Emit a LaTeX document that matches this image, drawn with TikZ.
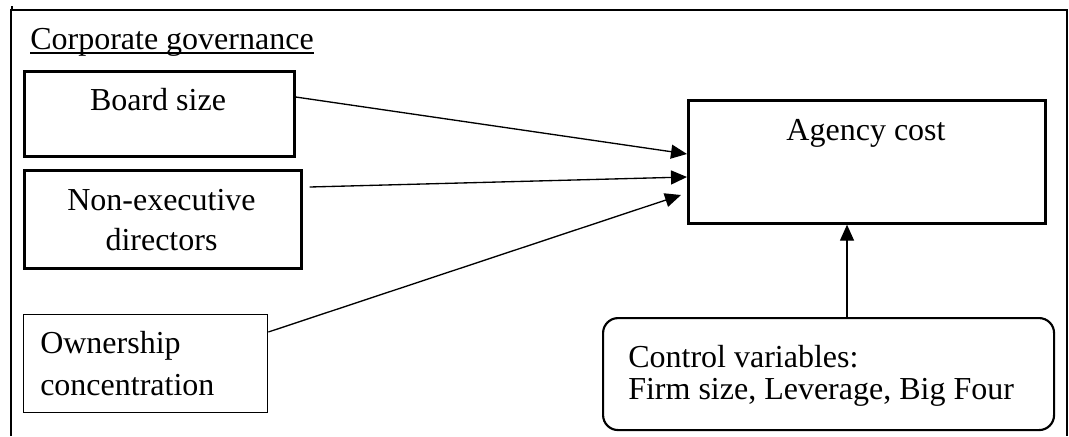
\documentclass[tikz,border=0pt]{standalone}
\usepackage{fontspec}
\setmainfont{Liberation Serif}
\usetikzlibrary{arrows.meta,calc}
\def\u{0.75pt}
\begin{document}
\begin{tikzpicture}[x=0.75pt,y=-0.75pt,
  every node/.style={font=\fontsize{24}{30}\selectfont, inner sep=0pt},
  thickbox/.style={draw, line width=2pt, rectangle, anchor=north west},
  thinbox/.style={draw, line width=1pt, rectangle, anchor=north west},
  roundbox/.style={draw, line width=1.6pt, rectangle, rounded corners=15*\u, anchor=north west},
  label/.style={anchor=base},
  conn/.style={line width=1pt, -{Triangle[length=16*\u, width=14*\u]}}]
\useasboundingbox (0,0) rectangle (1069,436);
% outer frame
\draw[line width=0.9pt] (11,436) -- (11,10) -- (1067,10) -- (1067,436);
\draw[line width=1pt] (12,6) -- (12,10);
% title
\node[anchor=base west] (title) at (30,49) {Corporate governance};
\draw[line width=0.9pt] ($(title.base west)+(0,4)$) -- ($(title.base east)+(0,4)$);
% boxes
\node[thickbox, minimum width=270*\u, minimum height=85*\u] (board) at (23,70) {};
\node[label] at (158,110) {Board size};
\node[thickbox, minimum width=277*\u, minimum height=98*\u] (nonexec) at (23,169) {};
\node[label, align=center, font=\fontsize{24}{30}\selectfont] at (161.5,250) {Non-executive\\directors};
\node[thinbox, minimum width=244*\u, minimum height=98*\u] (own) at (23,314) {};
\node[anchor=base west, align=left, font=\fontsize{24}{31.5}\selectfont] at (40,395) {Ownership\\concentration};
\node[thickbox, minimum width=357*\u, minimum height=123*\u] (agency) at (687,99) {};
\node[label] at (866,140) {Agency cost};
\node[roundbox, minimum width=451*\u, minimum height=112*\u] (control) at (602,317) {};
\node[anchor=base west, align=left, font=\fontsize{24}{24}\selectfont] at (628,399) {Control variables:\\Firm size, Leverage, Big Four};
% connectors
\draw[conn] (board.east |- 0,97) -- (agency.west |- 0,154);
\draw[conn] ($(nonexec.east |- 0,187)+(7,0)$) -- (agency.west |- 0,177);
\draw[conn] (own.east |- 0,332) -- ($(agency.west |- 0,195)+(-6,0)$);
\draw[conn] (control.north -| 847,0) -- (agency.south -| 847,0);
\end{tikzpicture}
\end{document}
